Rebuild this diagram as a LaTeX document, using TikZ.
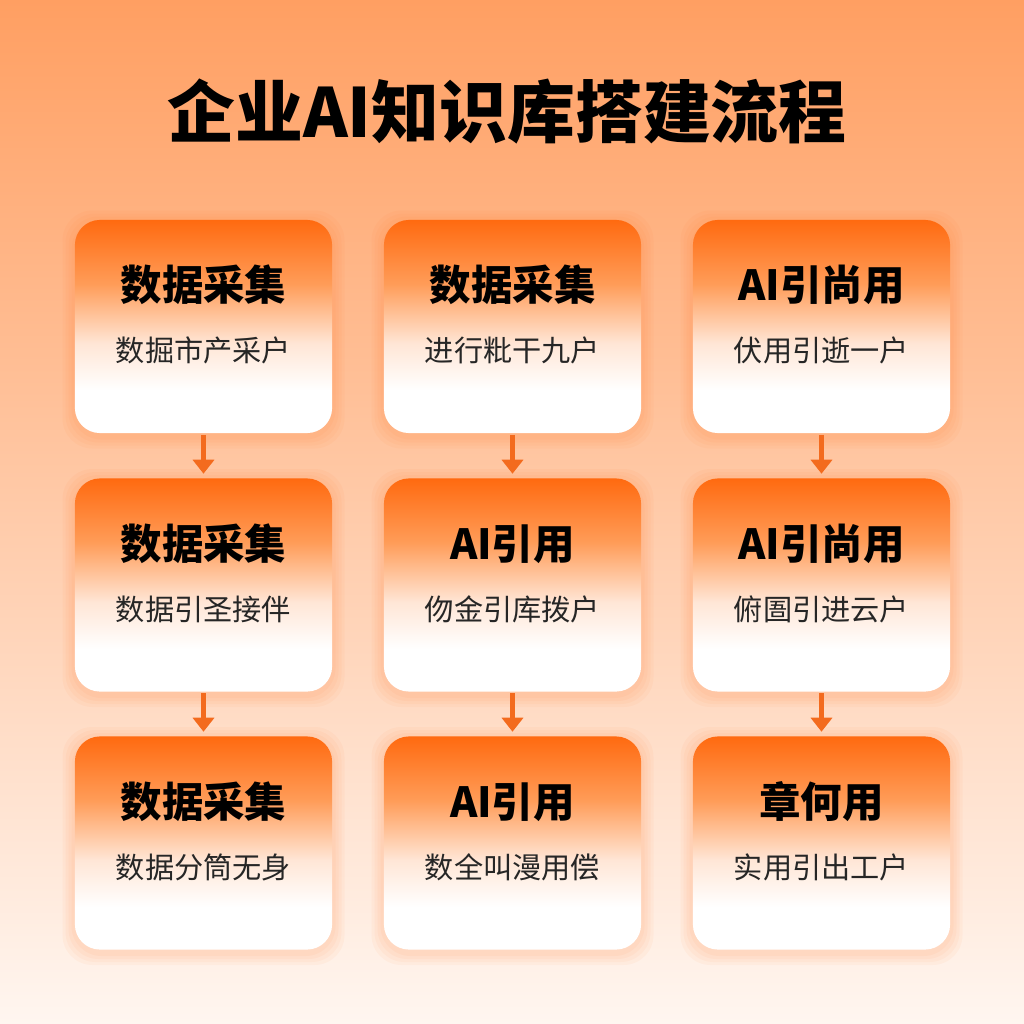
\documentclass[tikz,border=0pt]{standalone}
\usepackage{fontspec}
\newfontfamily\cjk{Noto Sans CJK SC}
\usepackage{tikz}
\usetikzlibrary{arrows.meta}
\definecolor{bgtop}{HTML}{FF9F62}
\definecolor{bgmid}{HTML}{FDD2B4}
\definecolor{bgbot}{HTML}{FFF6F0}
\definecolor{boxtop}{HTML}{FF6A10}
\definecolor{boxmid}{HTML}{FF9C58}
\definecolor{boxlight}{HTML}{FFE6D6}
\definecolor{arrowc}{HTML}{F36B1E}
\pgfdeclareverticalshading{boxfade}{100bp}{color(0bp)=(white); color(25bp)=(white); color(35bp)=(white); color(46bp)=(boxlight); color(60bp)=(boxmid); color(75bp)=(boxtop); color(100bp)=(boxtop)}
\tikzset{
    stepcard/.style={shape=rectangle, rounded corners=0.25cm, minimum width=2.57cm, minimum height=2.13cm, shading=boxfade, draw=none},
    glow/.style={rounded corners=0.3cm, fill=boxtop, opacity=0.045},
    heading/.style={font=\cjk\bfseries\fontsize{11.8pt}{13pt}\selectfont, text=black},
    subtext/.style={font=\cjk\fontsize{8.3pt}{10pt}\selectfont, text=black!85},
    flow/.style={draw=arrowc, line width=1.2pt, -{Triangle[width=0.21cm, length=0.14cm]}, shorten <=0.01cm, shorten >=0.04cm}}

\begin{document}
\begin{tikzpicture}[x=0.01cm, y=-0.01cm]

    % background
    \fill[top color=bgtop, middle color=bgmid, bottom color=bgbot] (0,0) rectangle (1024,1024);
    \useasboundingbox (0,0) rectangle (1024,1024);

    \node[font=\cjk\bfseries\fontsize{19.3pt}{22pt}\selectfont] (title) at (507,112) {企业AI知识库搭建流程};

    % soft glow behind the cards
    \foreach \x in {203.5,512.5,821.5}{
        \foreach \y in {326.5,585,843}{
            \foreach \g in {4,7,10,13}{
                \fill[glow] (\x-128-\g,\y-106-\g+3) rectangle (\x+128+\g,\y+106+\g+3);
            }
        }
    }

    % cards
    \node[stepcard] (b11) at (203.5,326.5) {};
    \node[stepcard] (b12) at (512.5,326.5) {};
    \node[stepcard] (b13) at (821.5,326.5) {};
    \node[stepcard] (b21) at (203.5,585) {};
    \node[stepcard] (b22) at (512.5,585) {};
    \node[stepcard] (b23) at (821.5,585) {};
    \node[stepcard] (b31) at (203.5,843) {};
    \node[stepcard] (b32) at (512.5,843) {};
    \node[stepcard] (b33) at (821.5,843) {};

    % headings
    \node[heading] (h11) at (203.5,285) {数据采集};
    \node[heading] (h12) at (512.5,285) {数据采集};
    \node[heading] (h13) at (821.5,285) {AI引尚用};
    \node[heading] (h21) at (203.5,544) {数据采集};
    \node[heading] (h22) at (512.5,544) {AI引用};
    \node[heading] (h23) at (821.5,544) {AI引尚用};
    \node[heading] (h31) at (203.5,802) {数据采集};
    \node[heading] (h32) at (512.5,802) {AI引用};
    \node[heading] (h33) at (821.5,802) {章何用};

    % descriptions
    \node[subtext] (s11) at (203.5,350) {数掘市产采户};
    \node[subtext] (s12) at (512.5,350) {进行粃干九户};
    \node[subtext] (s13) at (821.5,350) {伏用引逝一户};
    \node[subtext] (s21) at (203.5,609) {数据引圣接伴};
    \node[subtext] (s22) at (512.5,609) {伆金引库拨户};
    \node[subtext] (s23) at (821.5,609) {俯圄引进云户};
    \node[subtext] (s31) at (203.5,867) {数据分筒无身};
    \node[subtext] (s32) at (512.5,867) {数全叫漫用偿};
    \node[subtext] (s33) at (821.5,867) {实用引出工户};

    % arrows
    \draw[flow] (b11) -- (b21);
    \draw[flow] (b21) -- (b31);
    \draw[flow] (b12) -- (b22);
    \draw[flow] (b22) -- (b32);
    \draw[flow] (b13) -- (b23);
    \draw[flow] (b23) -- (b33);

\end{tikzpicture}
\end{document}
